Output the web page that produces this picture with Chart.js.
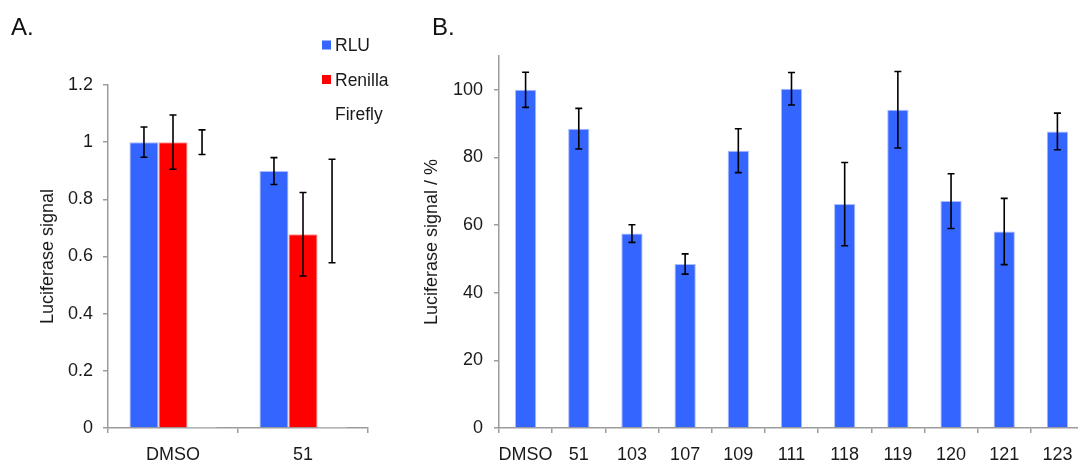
<!DOCTYPE html>
<html>
<head>
<meta charset="utf-8">
<script src="https://cdn.jsdelivr.net/npm/chart.js@4.4.0/dist/chart.umd.min.js"></script>
<style>
  html, body { margin: 0; padding: 0; background: #fff; overflow: hidden; width: 1078px; height: 464px; }
  .panel { position: absolute; top: 0; }
  .tag { position: absolute; top: 15px; z-index: 2; font: 24px/1 "Liberation Sans", Arial, sans-serif; color: #111; }
</style>
</head>
<body>
<canvas id="chartA" class="panel" width="400" height="464" style="left:0"></canvas>
<canvas id="chartB" class="panel" width="700" height="464" style="left:410px"></canvas>
<div class="tag" style="left:11px">A.</div>
<div class="tag" style="left:432px">B.</div>
<script>
// panel A: relative signal, DMSO vs compound 51
const groupsA = ["DMSO", "51"];
const rluA = [1.0, 0.899];
const rluErrA = [0.053, 0.047];
const renillaA = [1.0, 0.678];
const renillaErrA = [0.095, 0.146];
const fireflyA = [1.0, 0.759];
const fireflyErrA = [0.043, 0.181];
const ticksA = [0, 0.2, 0.4, 0.6, 0.8, 1, 1.2];

// panel B: luciferase signal in % per compound
const compoundsB = ["DMSO", "51", "103", "107", "109", "111", "118", "119", "120", "121", "123"];
const signalB = [100, 88.5, 57.5, 48.5, 82.0, 100.3, 66.2, 94.1, 67.1, 58.1, 87.7];
const signalErrB = [5.2, 6.0, 2.6, 3.0, 6.5, 4.8, 12.3, 11.3, 8.1, 9.8, 5.4];
const ticksB = [0, 20, 40, 60, 80, 100];

const BLUE = "#3465ff";
const RED = "#ff0000";
const AXIS = "#9c9c9c";
const TEXT = "#1a1a1a";
const FONT = { family: '"Liberation Sans", Arial, sans-serif', size: 18 };

//draws the black whiskers on top of each bar
const errorBars = {
    id: "errorBars",
    afterDatasetsDraw(chart) {
        const ctx = chart.ctx;
        const yScale = chart.scales.y;
        ctx.save();
        ctx.strokeStyle = "#000";
        ctx.lineWidth = 1.6;
        chart.data.datasets.forEach((ds, i) => {
            if (!ds.errors) return;
            chart.getDatasetMeta(i).data.forEach((bar, j) => {
                const v = ds.data[j];
                const e = ds.errors[j];
                const top = yScale.getPixelForValue(v + e);
                const bot = yScale.getPixelForValue(v - e);
                ctx.beginPath();
                ctx.moveTo(bar.x, top); ctx.lineTo(bar.x, bot);
                ctx.moveTo(bar.x - 3.5, top); ctx.lineTo(bar.x + 3.5, top);
                ctx.moveTo(bar.x - 3.5, bot); ctx.lineTo(bar.x + 3.5, bot);
                ctx.stroke();
            });
        });
        ctx.restore();
    }
};

//legend of panel A sits over the top right corner of the plot
const sideLegend = {
    id: "sideLegend",
    afterDraw(chart) {
        const ctx = chart.ctx;
        ctx.save();
        ctx.font = '17.5px "Liberation Sans", Arial, sans-serif';
        ctx.textBaseline = "middle";
        chart.data.datasets.forEach((ds, i) => {
            const cy = 46.5 + i * 34.5;
            ctx.fillStyle = ds.backgroundColor;
            ctx.fillRect(322, cy - 6, 9, 9);
            ctx.fillStyle = TEXT;
            ctx.fillText(ds.label, 335, cy);
        });
        ctx.restore();
    }
};

function onlyTicks(list) {
    return scale => {
        scale.ticks = scale.ticks.filter(t => list.some(v => Math.abs(v - t.value) < 1e-6));
    };
}

function axes(yMin, yMax, step, tickList, yWidth, title, titlePad, yPad) {
    return {
        x: {
            grid: { drawOnChartArea: false, tickLength: 5, color: AXIS, lineWidth: 1.5, offset: true },
            border: { color: AXIS, width: 1.5 },
            ticks: { font: FONT, color: TEXT, padding: 11, maxRotation: 0, autoSkip: false },
            afterFit: s => { s.height = 36; }
        },
        y: {
            min: yMin,
            max: yMax,
            ticks: { stepSize: step, font: FONT, color: TEXT, padding: yPad, callback: v => String(+v.toFixed(1)) },
            afterBuildTicks: onlyTicks(tickList),
            grid: { drawOnChartArea: false, tickLength: 5, color: AXIS, lineWidth: 1.5 },
            border: { color: AXIS, width: 1.5 },
            title: { display: true, text: title, font: FONT, color: TEXT, padding: { top: titlePad } },
            afterFit: s => { s.width = yWidth; }
        }
    };
}

new Chart(document.getElementById("chartA"), {
    type: "bar",
    data: {
        labels: groupsA,
        datasets: [
            { label: "RLU", data: rluA, errors: rluErrA, backgroundColor: BLUE, borderColor: "#a9bcff", borderWidth: 1 },
            { label: "Renilla", data: renillaA, errors: renillaErrA, backgroundColor: RED, borderColor: "#ff9a9a", borderWidth: 1 },
            { label: "Firefly", data: fireflyA, errors: fireflyErrA, backgroundColor: "#ffffff", borderWidth: 0 }
        ]
    },
    options: {
        responsive: false,
        animation: false,
        layout: { padding: { top: 85, right: 32, bottom: 0, left: 0 } },
        datasets: { bar: { categoryPercentage: 0.67, barPercentage: 1.0 } },
        plugins: { legend: { display: false }, tooltip: { enabled: false } },
        scales: axes(0, 1.2, 0.2, ticksA, 108, "Luciferase signal", 37, 10)
    },
    plugins: [errorBars, sideLegend]
});

new Chart(document.getElementById("chartB"), {
    type: "bar",
    data: {
        labels: compoundsB,
        datasets: [
            { label: "Luciferase signal", data: signalB, errors: signalErrB, backgroundColor: BLUE, borderColor: "#a9bcff", borderWidth: 1 }
        ]
    },
    options: {
        responsive: false,
        animation: false,
        layout: { padding: { top: 56, right: 26, bottom: 0, left: 0 } },
        datasets: { bar: { categoryPercentage: 0.4, barPercentage: 1.0 } },
        plugins: { legend: { display: false }, tooltip: { enabled: false } },
        scales: axes(0, 110, 20, ticksB, 89, "Luciferase signal / %", 11, 11)
    },
    plugins: [errorBars]
});
</script>
</body>
</html>
